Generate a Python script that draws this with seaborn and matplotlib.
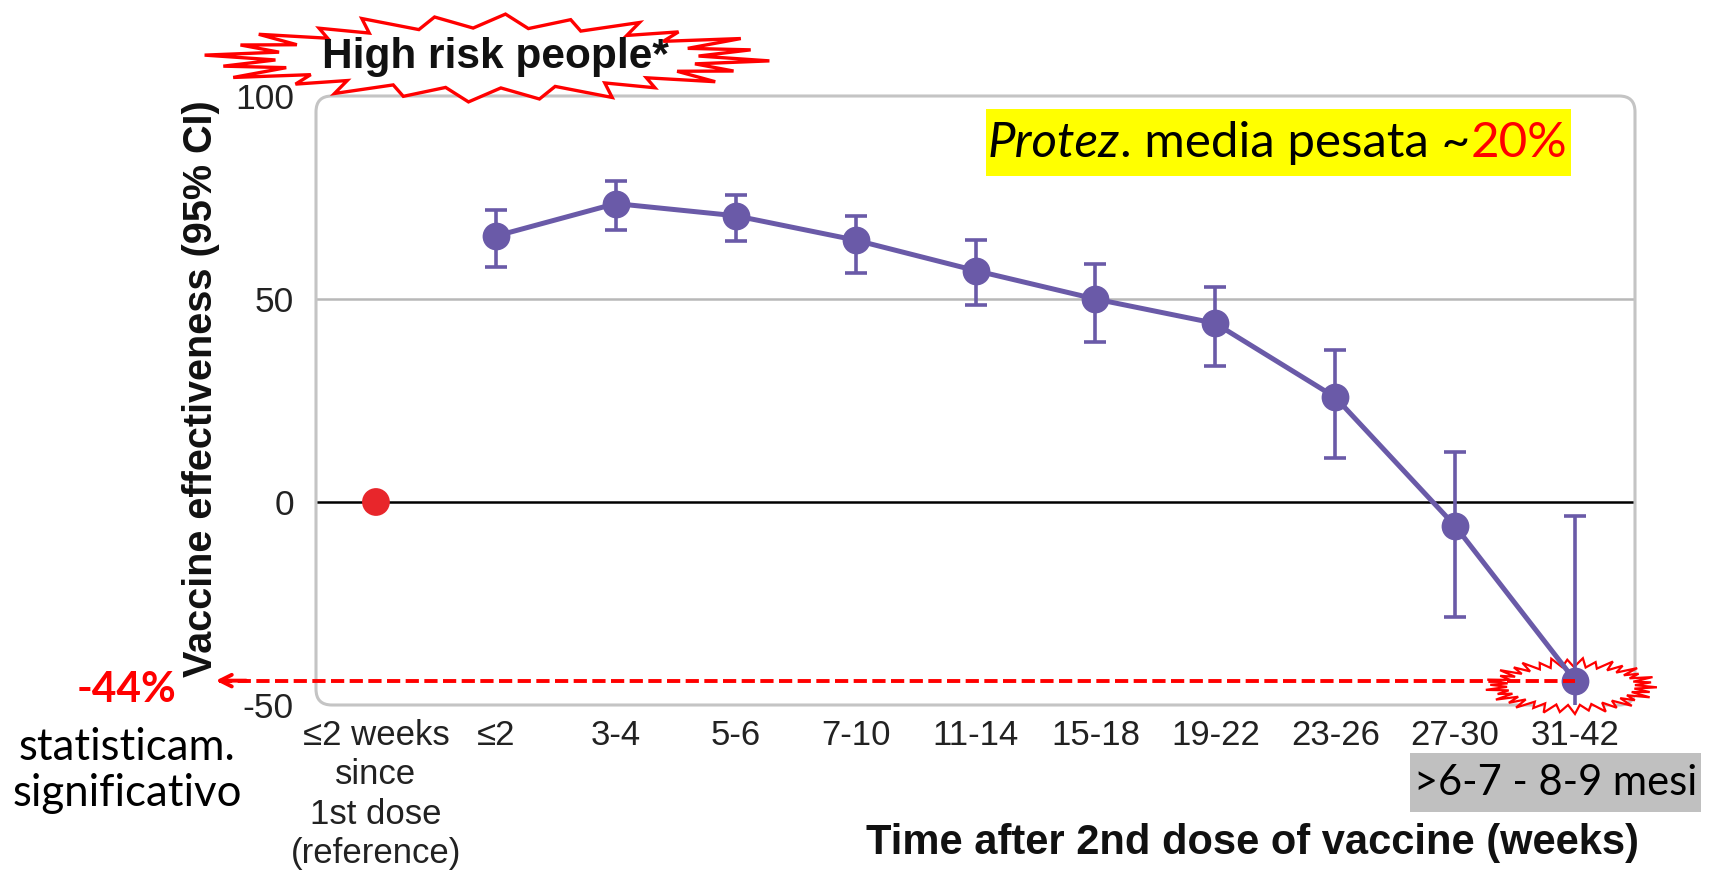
import numpy as np
import matplotlib
matplotlib.use("Agg")
import matplotlib.pyplot as plt
import seaborn as sns
from matplotlib.patches import FancyBboxPatch, Polygon, Rectangle
from matplotlib.text import Annotation

# data
categories = ["\u22642 weeks\nsince\n1st dose\n(reference)", "\u22642", "3-4", "5-6", "7-10",
              "11-14", "15-18", "19-22", "23-26", "27-30", "31-42"]
ref_value = [0]
ve = [65.5, 73.5, 70.5, 64.5, 57, 50, 44, 25.8, -5.9, -44]
ci_low = [58, 67, 64.4, 56.5, 48.5, 39.5, 33.5, 10.8, -28.3, -80]
ci_high = [72, 79, 75.5, 70.5, 64.5, 58.5, 53, 37.5, 12.4, -3.4]
yticks = [-50, 0, 50, 100]

PURPLE = "#6a5aa8"
RED = "#e8262b"
W, H = 1717, 889

sns.set_theme(style="white")
TICK_FONT = ["Liberation Sans", "DejaVu Sans"]
BOLD_FONT = ["Liberation Sans", "DejaVu Sans"]
NOTE_FONT = ["Lato", "DejaVu Sans"]
plt.rcParams["font.family"] = TICK_FONT

fig = plt.figure(figsize=(W / 100, H / 100), dpi=100)
ax = fig.add_axes([316 / W, 1 - 705 / H, (1635 - 316) / W, (705 - 96) / H])


def fpx(x, y):
    # pixel position (from top-left) -> figure fraction
    return x / W, 1 - y / H


def starburst(cx, cy, a_out, b_out, a_in, b_in, n, wobble):
    pts = []
    for k in range(2 * n):
        t = np.pi * k / n + 0.5 * np.pi / n
        if k % 2 == 0:
            f = wobble[(k // 2) % len(wobble)]
            x, y = cx + a_out * f * np.cos(t), cy + b_out * f * np.sin(t)
        else:
            x, y = cx + a_in * np.cos(t), cy + b_in * np.sin(t)
        pts.append(fpx(x, y))
    return np.array(pts)


pos = np.arange(1, len(ve) + 1)
sns.lineplot(x=pos, y=ve, color=PURPLE, lw=3.6, marker="o", markersize=20,
             markeredgewidth=0, ax=ax, zorder=5)
ax.errorbar(pos, ve, yerr=[np.array(ve) - np.array(ci_low), np.array(ci_high) - np.array(ve)],
            fmt="none", ecolor=PURPLE, elinewidth=2.6, capsize=8, capthick=2.6, zorder=4)
sns.scatterplot(x=[0], y=ref_value, color=RED, s=400, edgecolor="none", ax=ax, zorder=5)

ax.axhline(50, color="#b8b8b8", lw=1.8, zorder=1)
ax.axhline(0, color="black", lw=1.8, zorder=1)

ax.set_xlim(-0.5, 10.5)
ax.set_ylim(-50, 100)
ax.set_yticks(yticks)
ax.set_yticklabels([str(v) for v in yticks], fontsize=25.5, color="#222222")
ax.set_xticks(range(len(categories)))
ax.set_xticklabels(categories, fontsize=25, color="#222222", linespacing=1.25)
ax.tick_params(axis="x", direction="in", length=11, width=1.8, color="#b0b0b0", pad=10)
ax.tick_params(axis="y", length=0, pad=16)
for s in ax.spines.values():
    s.set_visible(False)

aspect = (1635 - 316) / (705 - 96)
frame = FancyBboxPatch((0, 0), 1, 1, boxstyle="round,pad=0,rounding_size=0.012",
                       transform=ax.transAxes, mutation_aspect=aspect, fill=False,
                       edgecolor="#c4c4c4", lw=2.2, clip_on=False, zorder=2)
ax.add_patch(frame)

ax.set_ylabel("Vaccine effectiveness (95% CI)", fontsize=28.5, fontweight="bold",
              family=BOLD_FONT, color="#111111")
ax.yaxis.set_label_coords(-0.087, 0.52)
ax.yaxis.label.set_va("center")
ax.set_xlabel("Time after 2nd dose of vaccine (weeks)", fontsize=30, fontweight="bold",
              family=BOLD_FONT, color="#111111")
ax.xaxis.set_label_coords(0.71, -0.226)
ax.xaxis.label.set_va("center")

# starburst behind the last point
star2 = Polygon(starburst(1571, 686, 86, 28, 64, 19, 34, [1, 0.94, 1.0, 0.9]),
                closed=True, transform=fig.transFigure, facecolor="white",
                edgecolor="red", lw=1.6, clip_on=False, zorder=3)
ax.add_patch(star2)

# dashed red arrow from the last point to the left margin
x_left = ax.transData.inverted().transform(fig.transFigure.transform(fpx(213, 0)))[0]
ax.plot([x_left + 0.05, pos[-1]], [ve[-1], ve[-1]], color="red", lw=2.8,
        dashes=(3.4, 1.4), clip_on=False, zorder=6)
ax.annotate("", xy=(x_left, ve[-1]), xytext=(x_left + 0.3, ve[-1]),
            arrowprops=dict(arrowstyle="->,head_length=0.7,head_width=0.35",
                            color="red", lw=2.8), annotation_clip=False, zorder=6)

# title starburst
star1 = Polygon(starburst(487, 58, 283, 44, 212, 30, 24, [1, 0.92, 0.97, 0.9, 1.0, 0.95]),
                closed=True, transform=fig.transFigure, facecolor="white",
                edgecolor="red", lw=2.4, zorder=5)
fig.add_artist(star1)
fig.text(*fpx(495, 57), "High risk people*", fontsize=30.5, fontweight="bold",
         family=BOLD_FONT, color="#111111", ha="center", va="center", zorder=6)

# yellow note
x0, y0 = fpx(986, 176)
x1, y1 = fpx(1571, 109)
fig.add_artist(Rectangle((x0, y0), x1 - x0, y1 - y0, transform=fig.transFigure,
                         facecolor="#ffff00", edgecolor="none", zorder=5))
t1 = fig.text(*fpx(988, 143), "Protez", fontsize=35.5, style="italic", family=NOTE_FONT,
              color="black", ha="left", va="center", zorder=6)
t2 = Annotation(". media pesata ~", xy=(1, 0), xycoords=t1, fontsize=35.5, family=NOTE_FONT,
                color="black", ha="left", va="bottom", zorder=6)
fig.add_artist(t2)
t3 = Annotation("20%", xy=(1, 0), xycoords=t2, fontsize=35.5, family=NOTE_FONT,
                color="red", ha="left", va="bottom", zorder=6)
fig.add_artist(t3)

# left notes
fig.text(*fpx(126, 690), "-44%", fontsize=30.5, fontweight="bold", family=NOTE_FONT,
         color="red", ha="center", va="center")
fig.text(*fpx(127, 747), "statisticam.", fontsize=31.5, family=NOTE_FONT,
         color="black", ha="center", va="center")
fig.text(*fpx(127, 793), "significativo", fontsize=31.5, family=NOTE_FONT,
         color="black", ha="center", va="center")

# grey note under the last ticks
g0 = fpx(1410, 812)
g1 = fpx(1701, 753)
fig.add_artist(Rectangle(g0, g1[0] - g0[0], g1[1] - g0[1], transform=fig.transFigure,
                         facecolor="#c0c0c0", edgecolor="none", zorder=5))
fig.text(*fpx(1556, 783), ">6-7 - 8-9 mesi", fontsize=30, family=NOTE_FONT,
         color="black", ha="center", va="center", zorder=6)

fig.savefig("out.png", dpi=100)
